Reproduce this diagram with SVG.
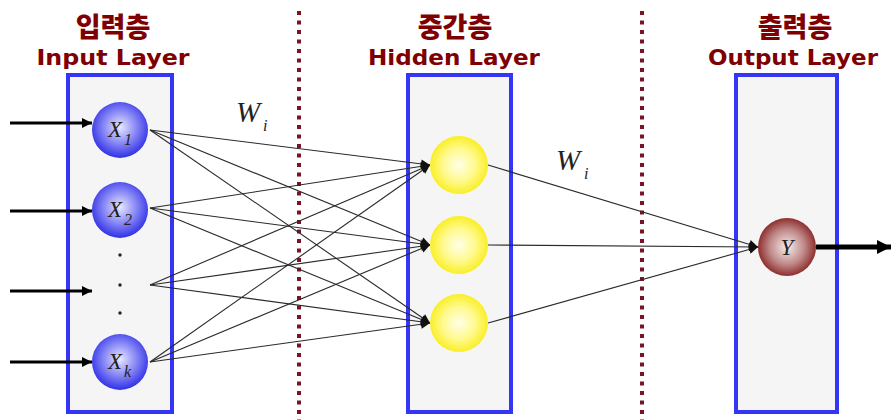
<svg xmlns="http://www.w3.org/2000/svg" width="891" height="420" viewBox="0 0 891 420">
  <style>
    .layer { fill: #f5f5f5; stroke: #3535f5; stroke-width: 4; }
    .divider { stroke: #7a1424; stroke-width: 4; stroke-dasharray: 4 5.5; fill: none; }
    .ko { font-family: "Noto Sans CJK KR", sans-serif; font-weight: 900; font-size: 27px; fill: #7f0000; text-anchor: middle; }
    .en { font-family: "DejaVu Sans", "Liberation Sans", sans-serif; font-weight: bold; font-size: 22px; fill: #7f0000; text-anchor: middle; }
    .var { font-family: "Liberation Serif", serif; font-style: italic; font-size: 23px; fill: #222; }
    .sub { font-family: "Liberation Serif", serif; font-style: italic; font-size: 16px; fill: #222; }
    .w { font-family: "Liberation Serif", serif; font-style: italic; font-size: 29px; fill: #222; }
    .link { stroke: #2a2a2a; stroke-width: 1.1; fill: none; marker-end: url(#arrSmall); }
    .inarr { stroke: #000; stroke-width: 3; fill: none; marker-end: url(#arrBig); }
    .dot { fill: #222; }
  </style>
  <defs>
    <radialGradient id="gBlue" cx="50%" cy="45%" r="55%">
      <stop offset="0" stop-color="#e8e8ff"/>
      <stop offset="0.55" stop-color="#8484f5"/>
      <stop offset="1" stop-color="#3030e6"/>
    </radialGradient>
    <radialGradient id="gYellow" cx="50%" cy="50%" r="55%">
      <stop offset="0" stop-color="#ffffe8"/>
      <stop offset="0.5" stop-color="#fffa90"/>
      <stop offset="1" stop-color="#f8ec10"/>
    </radialGradient>
    <radialGradient id="gRed" cx="50%" cy="50%" r="55%">
      <stop offset="0" stop-color="#f6eeee"/>
      <stop offset="0.55" stop-color="#c08888"/>
      <stop offset="1" stop-color="#821818"/>
    </radialGradient>
    <marker id="arrSmall" viewBox="0 0 10 10" refX="10" refY="5" markerWidth="11" markerHeight="9" markerUnits="userSpaceOnUse" orient="auto">
      <path d="M0,0 L10,5 L0,10 z" fill="#111"/>
    </marker>
    <marker id="arrBig" viewBox="0 0 10 10" refX="10" refY="5" markerWidth="12" markerHeight="10" markerUnits="userSpaceOnUse" orient="auto">
      <path d="M0,0 L10,5 L0,10 z" fill="#000"/>
    </marker>
    <marker id="arrOut" viewBox="0 0 10 10" refX="10" refY="5" markerWidth="14" markerHeight="14" markerUnits="userSpaceOnUse" orient="auto">
      <path d="M0,0 L10,5 L0,10 z" fill="#000"/>
    </marker>
  </defs>

  <rect width="891" height="420" fill="#ffffff"/>

  <!-- dividers -->
  <g id="dividers">
    <line class="divider" x1="299" y1="11" x2="299" y2="420"/>
    <line class="divider" x1="642" y1="11" x2="642" y2="420"/>
  </g>

  <!-- titles -->
  <g id="titles">
    <text class="ko" x="113" y="37">입력층</text>
    <text class="en" x="113" y="65" textLength="153" lengthAdjust="spacingAndGlyphs">Input Layer</text>
    <text class="ko" x="455" y="37">중간층</text>
    <text class="en" x="454" y="65" textLength="172" lengthAdjust="spacingAndGlyphs">Hidden Layer</text>
    <text class="ko" x="795" y="37">출력층</text>
    <text class="en" x="793" y="65" textLength="170" lengthAdjust="spacingAndGlyphs">Output Layer</text>
  </g>

  <!-- layer boxes -->
  <g id="input-layer"><rect class="layer" x="68" y="75" width="104" height="337"/></g>
  <g id="hidden-layer"><rect class="layer" x="408" y="75" width="103" height="337"/></g>
  <g id="output-layer"><rect class="layer" x="736" y="75" width="101" height="337"/></g>

  <!-- connectors -->
  <g id="connectors">
    <line class="inarr" x1="10" y1="123" x2="92" y2="123"/>
    <line class="inarr" x1="10" y1="211" x2="92" y2="211"/>
    <line class="inarr" x1="10" y1="291" x2="92" y2="291"/>
    <line class="inarr" x1="10" y1="362" x2="92" y2="362"/>

    <line class="link" x1="150" y1="130" x2="430" y2="165"/>
    <line class="link" x1="150" y1="130" x2="430" y2="245"/>
    <line class="link" x1="150" y1="130" x2="430" y2="323"/>
    <line class="link" x1="150" y1="208" x2="430" y2="165"/>
    <line class="link" x1="150" y1="208" x2="430" y2="245"/>
    <line class="link" x1="150" y1="208" x2="430" y2="323"/>
    <line class="link" x1="150" y1="285" x2="430" y2="165"/>
    <line class="link" x1="150" y1="285" x2="430" y2="245"/>
    <line class="link" x1="150" y1="285" x2="430" y2="323"/>
    <line class="link" x1="150" y1="362" x2="430" y2="165"/>
    <line class="link" x1="150" y1="362" x2="430" y2="245"/>
    <line class="link" x1="150" y1="362" x2="430" y2="323"/>

    <line class="link" x1="488" y1="165" x2="758" y2="247"/>
    <line class="link" x1="488" y1="245" x2="758" y2="247"/>
    <line class="link" x1="488" y1="323" x2="758" y2="247"/>

    <line x1="816" y1="247" x2="891" y2="247" stroke="#000" stroke-width="5" marker-end="url(#arrOut)"/>
  </g>

  <!-- weight labels -->
  <g id="weights">
    <text class="w" x="236" y="122">W</text><text class="sub" x="263" y="131">i</text>
    <text class="w" x="556" y="170">W</text><text class="sub" x="584" y="179">i</text>
  </g>

  <!-- input nodes -->
  <g id="x1">
    <circle cx="120" cy="130" r="28" fill="url(#gBlue)"/>
    <text class="var" x="108" y="137">X</text><text class="sub" x="124" y="145" font-style="normal">1</text>
  </g>
  <g id="x2">
    <circle cx="120" cy="210" r="28" fill="url(#gBlue)"/>
    <text class="var" x="108" y="217">X</text><text class="sub" x="124" y="225" font-style="normal">2</text>
  </g>
  <g id="ellipsis">
    <circle class="dot" cx="120" cy="255" r="1.7"/>
    <circle class="dot" cx="120" cy="285" r="1.7"/>
    <circle class="dot" cx="120" cy="313" r="1.7"/>
  </g>
  <g id="xk">
    <circle cx="120" cy="362" r="28" fill="url(#gBlue)"/>
    <text class="var" x="108" y="369">X</text><text class="sub" x="124" y="377">k</text>
  </g>

  <!-- hidden nodes -->
  <g id="h1"><circle cx="459" cy="165" r="29" fill="url(#gYellow)"/></g>
  <g id="h2"><circle cx="459" cy="245" r="29" fill="url(#gYellow)"/></g>
  <g id="h3"><circle cx="459" cy="323" r="29" fill="url(#gYellow)"/></g>

  <!-- output node -->
  <g id="y">
    <circle cx="787" cy="247" r="29" fill="url(#gRed)"/>
    <text class="var" x="787" y="255" text-anchor="middle">Y</text>
  </g>
</svg>
